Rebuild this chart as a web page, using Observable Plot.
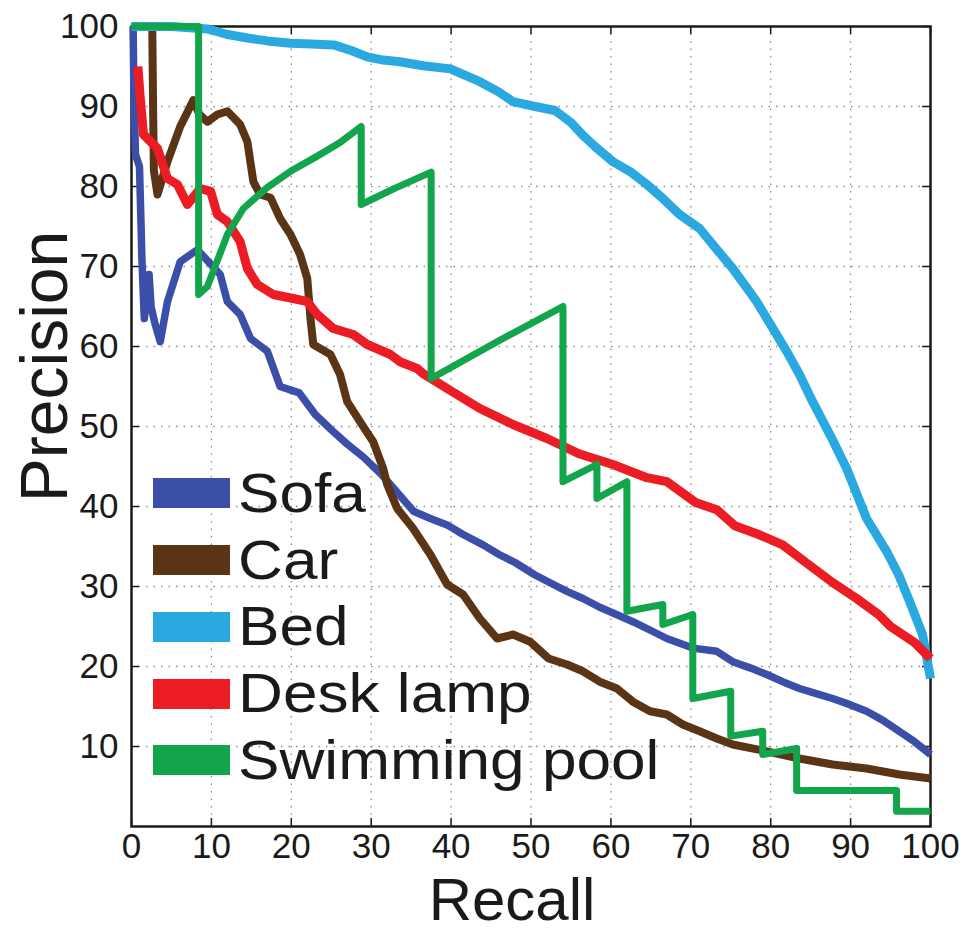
<!DOCTYPE html>
<html>
<head>
<meta charset="utf-8">
<script src="https://cdn.jsdelivr.net/npm/d3@7"></script>
<script src="https://cdn.jsdelivr.net/npm/@observablehq/plot@0.6"></script>
<style>
  body { margin: 0; background: #fff; }
  #chart { position: relative; width: 966px; height: 931px; }
  .legend { position: absolute; left: 153px; top: 460px; font-family: "Liberation Sans", Arial, sans-serif; color: #1a1a1a; }
  .legend .row { display: flex; align-items: center; height: 66.75px; }
  .legend .sw { width: 77px; height: 30px; margin-right: 8px; flex: none; }
  .legend .lab { font-size: 55px; line-height: 1; transform: scaleX(1.13); transform-origin: left center; white-space: nowrap; }
</style>
</head>
<body>
<div id="chart"></div>
<script>
// Precision–recall curves, [recall %, precision %]
const categories = ["Sofa", "Car", "Bed", "Desk lamp", "Swimming pool"];

const sofa = [
  [0,100],[0.2,100],[0.3,92],[0.5,84],[1.0,82.5],[1.2,75],[1.3,71],[1.6,63.5],[1.9,66],[2.2,69],
  [2.45,65],[2.9,63],[3.6,60.6],[4.5,65.6],[6.1,70.6],[8.25,72.1],[9.9,70.3],[11.1,69],[12,65.6],
  [13.6,64],[14.9,61],[17,59.4],[18.6,55],[21,54.2],[23,51.5],[25,49.6],[27,47.8],[29,46.2],
  [31.3,44],[33.4,41.6],[35.3,39.4],[37.4,38.5],[39.5,37.7],[41.5,36.5],[44,35.2],[46,34],[48,33],
  [50.4,31.5],[52.5,30.4],[54.5,29.4],[56.5,28.5],[58.6,27.4],[60.7,26.5],[62.75,25.6],[65,24.5],
  [67,23.5],[70.25,22.3],[73.25,21.9],[75.25,20.6],[77.5,19.8],[79.5,19],[81.5,18.1],[83.6,17.25],
  [85.7,16.6],[87.75,16],[90,15.2],[92,14.4],[94,13.3],[96.1,11.9],[98,10.6],[99.5,9.4],[100,9]
];

const car = [
  [2.6,100],[2.7,90],[2.8,82],[3.25,79],[4.5,83.1],[6.1,87.5],[7.75,90.8],[8.5,89],[9.5,88.1],
  [10.75,89],[12,89.4],[13.6,87.75],[14.5,85.6],[15.25,80.6],[16.1,79],[17.4,78.6],[18.6,76],
  [19.9,74],[21.1,71.5],[22,68.5],[22.4,63.5],[22.75,60.25],[24.9,59],[26.1,56.5],[27,53.1],
  [28.6,50.6],[30.25,48.1],[31.5,44.75],[32,42.75],[33.25,39.75],[35.25,37.25],[37.4,34],
  [39.5,30.25],[41.5,29],[43.6,26],[45.75,23.5],[47.75,24],[49.9,23.1],[52.2,21],[54.5,20.25],
  [56.5,19.4],[58.6,18.1],[60.75,17.25],[62.75,15.6],[64.9,14.4],[67,14],[69,12.75],[71.1,11.9],
  [73.25,11],[75.25,10.25],[79.5,9.4],[83.6,8.5],[87.75,7.75],[92,7.25],[96.1,6.5],[100,6]
];

const bed = [
  [0,100],[5,100],[9.5,99.7],[12,99],[14.9,98.5],[17,98.2],[19.9,97.9],[22.5,97.8],[25.3,97.7],
  [27.5,97],[29.5,96.2],[31.5,95.8],[33.6,95.6],[36.5,95.1],[39.9,94.7],[43.6,93.1],[46,91.8],
  [47.75,90.6],[50.5,90],[53,89.5],[55,88],[56.5,86.4],[58,85],[60.25,83.1],[62.5,81.8],[64.5,80.25],
  [66.5,78.5],[68.6,76.5],[71.1,74.75],[73.2,72.2],[75.25,69.75],[78.25,65.6],[80,62.7],[82,59.4],
  [83.6,56.5],[85.25,53.1],[87.5,48.8],[89.5,44.75],[92,38.5],[94.5,34.4],[96,31.5],[97.4,28.1],
  [99,24],[100,18.5]
];

const deskLamp = [
  [0.8,95],[1.1,91],[1.5,86.5],[3.25,84.75],[4.5,81],[5.75,80.25],[7,77.75],[8.6,79.75],[9.9,79.4],
  [10.75,76.5],[12,75.6],[13.6,73.1],[14.5,69.75],[15.75,67.75],[17.75,66.5],[20.25,66],[22,65.6],
  [23.25,64],[25.25,62.25],[27.75,61.5],[29.5,60.25],[32.4,59],[33.6,58.1],[35.75,57.25],[36.5,56.6],
  [39.5,54.75],[43.6,52.25],[47.75,50.25],[52,48.5],[56,46.6],[60.25,45.25],[64.5,43.6],[67,43.1],
  [70.6,40.5],[73.25,39.6],[75.5,37.6],[78.5,36.5],[81.5,35.2],[84.4,33],[87.75,30.5],[90.75,28.5],
  [93.5,26.5],[95,25],[96.5,24],[98,23],[100,21]
];

const swimmingPool = [
  [0,100],[8.4,100],[8.4,66.5],[9.5,67.5],[12,74],[14,77.25],[17,79.9],[19.9,81.9],[23.25,83.8],
  [26.1,85.5],[28.75,87.5],[28.75,77.75],[33,79.8],[37.5,81.8],[37.5,56],[45.75,60.6],[54,65],
  [54,43.1],[58.25,45.25],[58.25,41],[62,43.1],[62,26.9],[66.5,27.75],[66.5,25.25],[70.25,26.5],
  [70.25,16],[75,16.9],[75,11.3],[79,11.9],[79,9],[83.25,9.75],[83.25,4.5],[95.75,4.5],[95.75,1.9],
  [100,1.9]
];

const seriesValues = [sofa, car, bed, deskLamp, swimmingPool];
const colors = ["#3b4ea8", "#5a3414", "#2aa8e0", "#ec1c24", "#12a54b"];
const lineWidths = [7.5, 8, 9, 9, 7];

const xTickValues = [0, 10, 20, 30, 40, 50, 60, 70, 80, 90, 100];
const yTickValues = [10, 20, 30, 40, 50, 60, 70, 80, 90, 100];
const gridValues = [10, 20, 30, 40, 50, 60, 70, 80, 90];

const ink = "#1a1a1a";
const gridStyle = {stroke: "#8c8c8c", strokeDasharray: "1.5,6", strokeWidth: 1.3};

const chart = Plot.plot({
  width: 966,
  height: 931,
  marginLeft: 131,
  marginRight: 36,
  marginTop: 26,
  marginBottom: 105,
  style: {fontFamily: "Liberation Sans, Arial, sans-serif", fontSize: "35px", color: ink, background: "#fff", overflow: "visible"},
  x: {domain: [0, 100], ticks: xTickValues, tickSize: 0, tickPadding: 7, label: null},
  y: {domain: [0, 100], ticks: yTickValues, tickSize: 0, tickPadding: 13, label: null},
  marks: [
    Plot.ruleX(gridValues, {x: d => d, ...gridStyle}),
    Plot.ruleY(gridValues, {y: d => d, ...gridStyle}),
    Plot.frame({stroke: ink, strokeWidth: 2.5}),
    // inward ticks on all four sides
    Plot.tickX(xTickValues, {x: d => d, insetTop: 792, stroke: ink, strokeWidth: 1.5}),
    Plot.tickX(xTickValues, {x: d => d, insetBottom: 792, stroke: ink, strokeWidth: 1.5}),
    Plot.tickY(yTickValues, {y: d => d, insetRight: 791, stroke: ink, strokeWidth: 1.5}),
    Plot.tickY(yTickValues, {y: d => d, insetLeft: 791, stroke: ink, strokeWidth: 1.5}),
    ...seriesValues.map((pts, i) => Plot.line(pts, {
      x: d => d[0], y: d => d[1],
      stroke: colors[i], strokeWidth: lineWidths[i], strokeLinejoin: "round", strokeLinecap: "butt"
    })),
    Plot.text(["Recall"], {text: d => d, frameAnchor: "bottom", lineAnchor: "middle", textAnchor: "middle", dx: -19, dy: 74, fontSize: 60, fill: ink}),
    Plot.text(["Precision"], {text: d => d, frameAnchor: "left", lineAnchor: "middle", textAnchor: "middle", rotate: -90, dx: -86, dy: -60, fontSize: 66, fill: ink})
  ]
});

const root = document.getElementById("chart");
root.appendChild(chart);

// legend in the lower-left corner of the plot area
const legend = d3.select(root).append("div").attr("class", "legend");
categories.forEach((name, i) => {
  const row = legend.append("div").attr("class", "row");
  row.append("div").attr("class", "sw").style("background", colors[i]);
  row.append("span").attr("class", "lab").text(name);
});
</script>
</body>
</html>
